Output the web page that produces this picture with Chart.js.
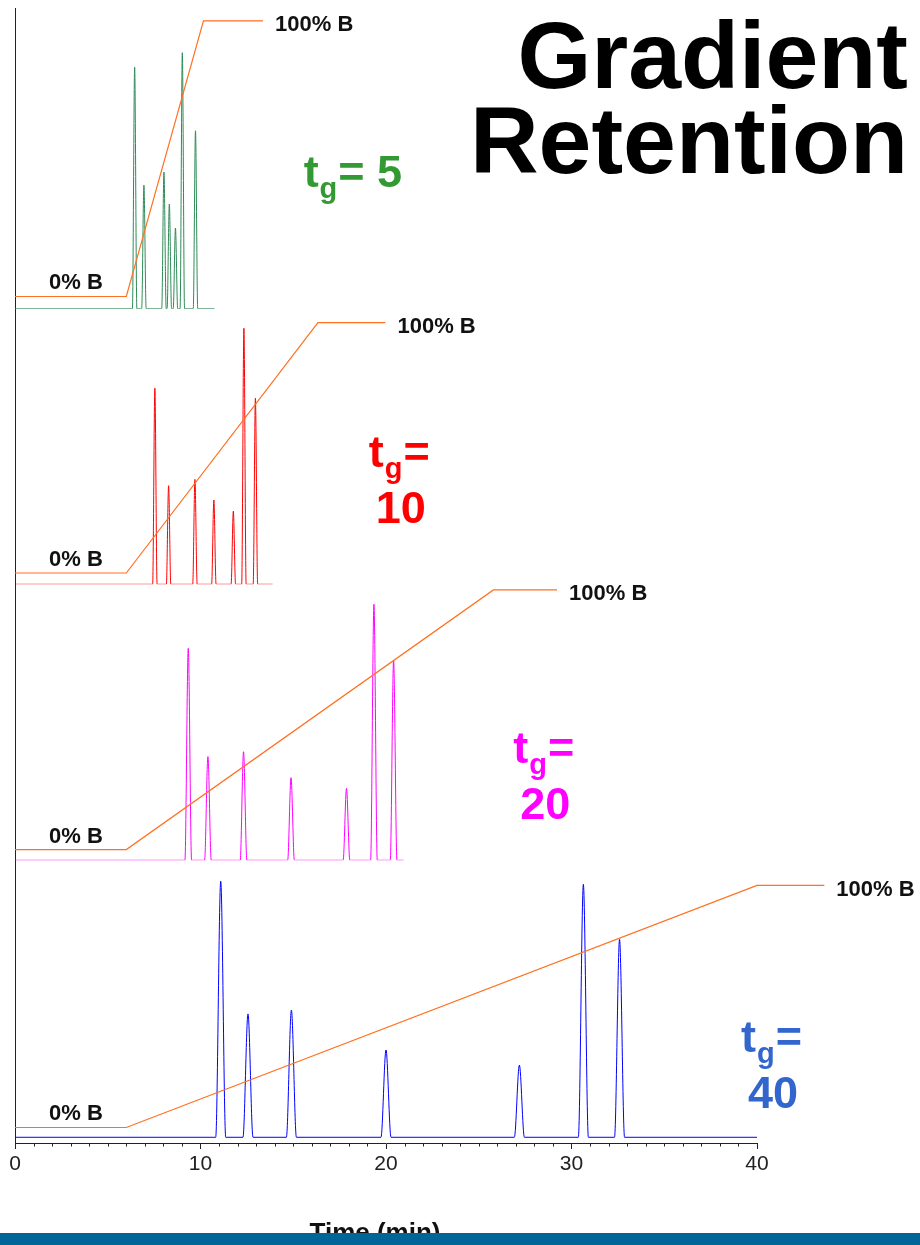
<!DOCTYPE html>
<html>
<head>
<meta charset="utf-8">
<title>Gradient Retention</title>
<script src="https://cdn.jsdelivr.net/npm/chart.js@4.4.1/dist/chart.umd.min.js"></script>
<style>
  html, body { margin: 0; padding: 0; background: #fff; }
  #wrap { position: relative; width: 920px; height: 1245px; }
</style>
</head>
<body>
<div id="wrap"><canvas id="gradientChart"></canvas></div>
<script>
// gradient times t_g (min), one run per panel, top to bottom
const gradientLabels = ["5", "10", "20", "40"];
const runEnd = [10.76, 13.89, 20.95, 40];

// retention times (min) and peak heights (% of the largest peak)
const peakTimes5 = [6.45, 6.95, 8.03, 8.32, 8.65, 9.02, 9.73];
const peakHeights5 = [94.3, 48.3, 53.4, 40.9, 31.5, 100, 69.5];
const peakTimes10 = [7.54, 8.28, 9.70, 10.72, 11.77, 12.34, 12.96];
const peakHeights10 = [76.6, 38.5, 41.0, 32.9, 28.6, 100, 72.7];
const peakTimes20 = [9.34, 10.40, 12.32, 14.88, 17.87, 19.35, 20.41];
const peakHeights20 = [82.8, 40.5, 42.4, 32.3, 28.1, 100, 78.2];
const peakTimes40 = [11.09, 12.56, 14.90, 20.00, 27.19, 30.64, 32.59];
const peakHeights40 = [100, 48.2, 49.7, 34.1, 28.2, 98.8, 77.3];

// solvent program: time (min) vs %B
const gradientTimes5 = [0, 6, 10.16, 13.37];
const gradientTimes10 = [0, 6, 16.33, 19.97];
const gradientTimes20 = [0, 6, 25.79, 29.22];
const gradientTimes40 = [0, 6, 40, 43.63];
const gradientPctB = [0, 0, 100, 100];

const xTicks = [0, 10, 20, 30, 40];

const FONT = "'Liberation Sans', Arial, Helvetica, sans-serif";

// per-panel drawing setup (scale ranges, colours, where %B sits, label anchors)
const panels = [
  { id: "y5",  times: peakTimes5,  heights: peakHeights5,  grad: gradientTimes5,
    line: "#2e8b57", text: "#339933", min: 0, max: 117.46, weight: 300.7, hw: 0.12,
    zeroB: 4.77, fullB: 112.4, labelAt: [15.56, 47.7], oneLine: true },
  { id: "y10", times: peakTimes10, heights: peakHeights10, grad: gradientTimes10,
    line: "#ff0000", text: "#ff0000", min: 0, max: 107.66, weight: 275.6, hw: 0.12,
    zeroB: 4.41, fullB: 102.2, labelAt: [19.07, 45.9], oneLine: false },
  { id: "y20", times: peakTimes20, heights: peakHeights20, grad: gradientTimes20,
    line: "#ff00ff", text: "#ff00ff", min: 0, max: 107.81, weight: 276, hw: 0.18,
    zeroB: 4.18, fullB: 105.6, labelAt: [26.86, 38.1], oneLine: false },
  { id: "y40", times: peakTimes40, heights: peakHeights40, grad: gradientTimes40,
    line: "#0000ff", text: "#3366cc", min: -2.23, max: 108.2, weight: 282.7, hw: 0.27,
    zeroB: 3.83, fullB: 98.4, labelAt: [39.14, 33.4], oneLine: false }
];

function chromatogram(times, heights, end, hw) {
  const pts = [{ x: 0, y: 0 }];
  times.forEach((t, i) => {
    pts.push({ x: t - hw, y: 0 }, { x: t, y: heights[i] }, { x: t + hw, y: 0 });
  });
  pts.push({ x: end, y: 0 });
  return pts;
}

const datasets = [];
panels.forEach((p, i) => {
  datasets.push({
    label: "%B tg=" + gradientLabels[i],
    data: p.grad.map((t, k) => ({ x: t, y: p.zeroB + gradientPctB[k] / 100 * (p.fullB - p.zeroB) })),
    yAxisID: p.id,
    borderColor: "#ff7020",
    borderWidth: 1.2,
    pointRadius: 0,
    clip: false
  });
  datasets.push({
    label: "tg=" + gradientLabels[i],
    data: chromatogram(p.times, p.heights, runEnd[i], p.hw),
    yAxisID: p.id,
    borderColor: p.line,
    borderWidth: 1,
    pointRadius: 0,
    cubicInterpolationMode: "monotone"
  });
});

const scales = {
  x: {
    type: "linear",
    // range fixed after data limits so the %B trace may run past 40 min
    afterDataLimits: (s) => { s.min = 0; s.max = 40; },
    afterBuildTicks: (s) => { s.ticks = xTicks.map((v) => ({ value: v })); },
    ticks: { color: "#222", padding: 3, font: { family: FONT, size: 21 } },
    grid: { drawOnChartArea: false, drawTicks: true, tickLength: 6, color: "#222" },
    border: { display: true, color: "#222", width: 1 },
    afterFit: (s) => { s.height = 102; }
  }
};
// stacked boxes on the left are laid out bottom-up, so add the lowest panel first
panels.slice().reverse().forEach((p) => {
  scales[p.id] = {
    type: "linear",
    position: "left",
    stack: "runs",
    stackWeight: p.weight,
    min: p.min,
    max: p.max,
    ticks: { display: false },
    grid: { display: false, drawTicks: false },
    border: { display: true, color: "#222", width: 1 }
  };
});

function drawTg(ctx, x0, y0, color, num, oneLine) {
  ctx.fillStyle = color;
  ctx.textAlign = "left";
  ctx.textBaseline = "alphabetic";
  ctx.font = "bold 45px " + FONT;
  ctx.fillText("t", x0, y0);
  let cx = x0 + ctx.measureText("t").width + 1;
  ctx.font = "bold 29px " + FONT;
  ctx.fillText("g", cx, y0 + 11);
  cx += ctx.measureText("g").width + 1;
  ctx.font = "bold 45px " + FONT;
  if (oneLine) {
    ctx.fillText("= " + num, cx, y0);
  } else {
    ctx.fillText("=", cx, y0);
    ctx.textAlign = "center";
    ctx.fillText(num, x0 + 32, y0 + 56);
  }
}

const decorations = {
  id: "decorations",
  afterDraw(chart) {
    const { ctx, chartArea } = chart;
    const xs = chart.scales.x;
    ctx.save();

    // minor ticks every minute
    ctx.strokeStyle = "#222";
    ctx.lineWidth = 1;
    for (let t = 1; t < 40; t++) {
      if (t % 10 === 0) continue;
      const px = Math.round(xs.getPixelForValue(t)) + 0.5;
      ctx.beginPath();
      ctx.moveTo(px, chartArea.bottom);
      ctx.lineTo(px, chartArea.bottom + 3.5);
      ctx.stroke();
    }

    panels.forEach((p, i) => {
      const ys = chart.scales[p.id];
      const topY = ys.getPixelForValue(p.fullB);
      const lowY = ys.getPixelForValue(p.zeroB);
      ctx.fillStyle = "#111";
      ctx.font = "bold 22px " + FONT;
      ctx.textAlign = "left";
      ctx.textBaseline = "alphabetic";
      ctx.fillText("100% B", xs.getPixelForValue(p.grad[3]) + 12, topY + 10.5);
      ctx.fillText("0% B", xs.getPixelForValue(0) + 34, lowY - 7);
      drawTg(ctx, xs.getPixelForValue(p.labelAt[0]), ys.getPixelForValue(p.labelAt[1]),
        p.text, gradientLabels[i], p.oneLine);
    });

    // title
    ctx.fillStyle = "#000";
    ctx.textAlign = "right";
    ctx.font = "bold 95px " + FONT;
    ctx.fillText("Gradient", 908, 88);
    ctx.fillText("Retention", 908, 173);

    // axis title, partly hidden by the footer band
    ctx.textAlign = "center";
    ctx.font = "bold 26px " + FONT;
    ctx.fillStyle = "#111";
    ctx.fillText("Time (min)", 375, 1241);
    ctx.fillStyle = "#006699";
    ctx.fillRect(0, 1233, chart.width, chart.height - 1233);
    ctx.restore();
  }
};

new Chart(document.getElementById("gradientChart"), {
  type: "line",
  data: { datasets: datasets },
  options: {
    responsive: true,
    maintainAspectRatio: false,
    animation: false,
    layout: { padding: { left: 15, right: 163, top: 8, bottom: 0 } },
    plugins: { legend: { display: false }, tooltip: { enabled: false } },
    scales: scales
  },
  plugins: [decorations]
});
</script>
</body>
</html>
